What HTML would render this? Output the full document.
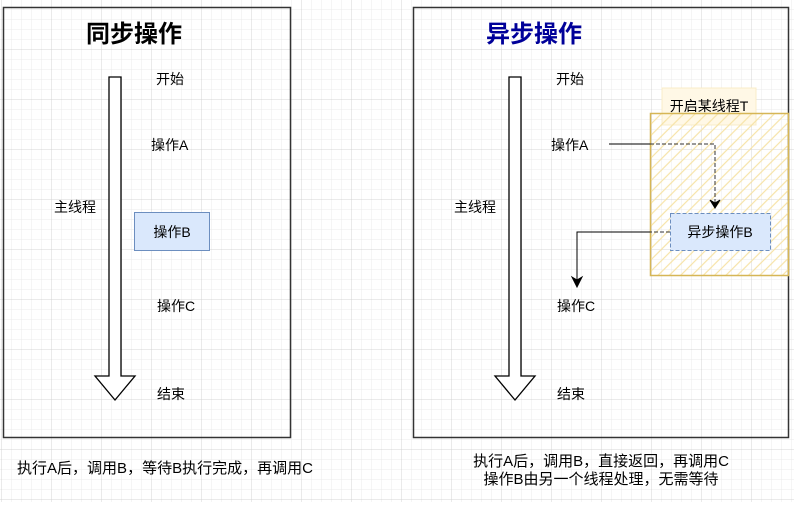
<!DOCTYPE html><html><head><meta charset="utf-8"><style>
body{margin:0;width:794px;height:502px;overflow:hidden;background:#fff;font-family:"Liberation Sans","Noto Sans CJK SC",sans-serif}
</style></head><body>
<svg width="794" height="502" xmlns="http://www.w3.org/2000/svg" font-family="Liberation Sans, Noto Sans CJK SC, sans-serif">
<defs>
<pattern id="g" width="10" height="10" patternUnits="userSpaceOnUse" x="2" y="0"><path d="M10 0V10M0 10H10" stroke="#ebebeb" stroke-width="1" fill="none"/></pattern>
<pattern id="G" width="50" height="50" patternUnits="userSpaceOnUse" x="2" y="0"><path d="M50 0V50M0 50H50" stroke="#d4d4d4" stroke-width="1" fill="none"/></pattern>
<pattern id="h" width="8" height="8" patternUnits="userSpaceOnUse" patternTransform="rotate(-45)"><path d="M0 4H8" stroke="#f6e3a8" stroke-width="1.2"/></pattern>
</defs>
<rect width="794" height="502" fill="url(#g)"/>
<rect width="794" height="502" fill="url(#G)"/>
<rect x="3.5" y="7.5" width="287" height="430" fill="none" stroke="#333" stroke-width="1.5"/>
<rect x="413.5" y="7.5" width="375" height="430" fill="none" stroke="#333" stroke-width="1.5"/>
<text x="134" y="42" font-size="24" font-weight="bold" text-anchor="middle" fill="#000">同步操作</text>
<text x="534" y="42" font-size="24" font-weight="bold" text-anchor="middle" fill="#000099">异步操作</text>
<path d="M109 77H121V376H135L115 400L95 376H109Z" fill="#fff" stroke="#000" stroke-width="1.3"/>
<path d="M509 77H521V376H535L515 400L495 376H509Z" fill="#fff" stroke="#000" stroke-width="1.3"/>
<g font-size="14" fill="#000">
<text x="156" y="84">开始</text>
<text x="151" y="150">操作A</text>
<text x="54" y="212">主线程</text>
<text x="157" y="311">操作C</text>
<text x="157" y="399">结束</text>
<text x="556" y="84">开始</text>
<text x="551" y="150">操作A</text>
<text x="454" y="212">主线程</text>
<text x="557" y="311">操作C</text>
<text x="557" y="399">结束</text>
</g>
<rect x="134.5" y="212.5" width="75" height="38" fill="#dae8fc" stroke="#6c8ebf"/>
<text x="172" y="237" font-size="14" text-anchor="middle">操作B</text>
<rect x="662" y="88" width="94" height="37" fill="#fff8e6" stroke="#f8ecc8" stroke-width="1"/>
<rect x="650.5" y="113.5" width="138" height="162" fill="url(#h)" stroke="#d6b656" stroke-width="1.5"/>
<text x="709" y="111" font-size="14" text-anchor="middle">开启某线程T</text>
<path d="M609 144H650" stroke="#000" fill="none"/>
<path d="M650 144H715V203" stroke="#333" fill="none" stroke-dasharray="4 2"/>
<path d="M710 200L715 208L720 200L715 203Z" fill="#000" stroke="#000"/>
<rect x="670.5" y="213.5" width="100" height="37" fill="#dae8fc" stroke="#6c8ebf" stroke-dasharray="4 2"/>
<text x="720" y="237" font-size="14" text-anchor="middle">异步操作B</text>
<path d="M670 232H650" stroke="#333" stroke-dasharray="4 2"/>
<path d="M650 232H577V280" stroke="#000" fill="none"/>
<path d="M572 277L577 287L582 277L577 280Z" fill="#000" stroke="#000"/>
<g font-size="15">
<text x="17" y="473" textLength="296">执行A后，调用B，等待B执行完成，再调用C</text>
<text x="601" y="466" text-anchor="middle">执行A后，调用B，直接返回，再调用C</text>
<text x="601" y="484" text-anchor="middle">操作B由另一个线程处理，无需等待</text>
</g>
</svg>
</body></html>
